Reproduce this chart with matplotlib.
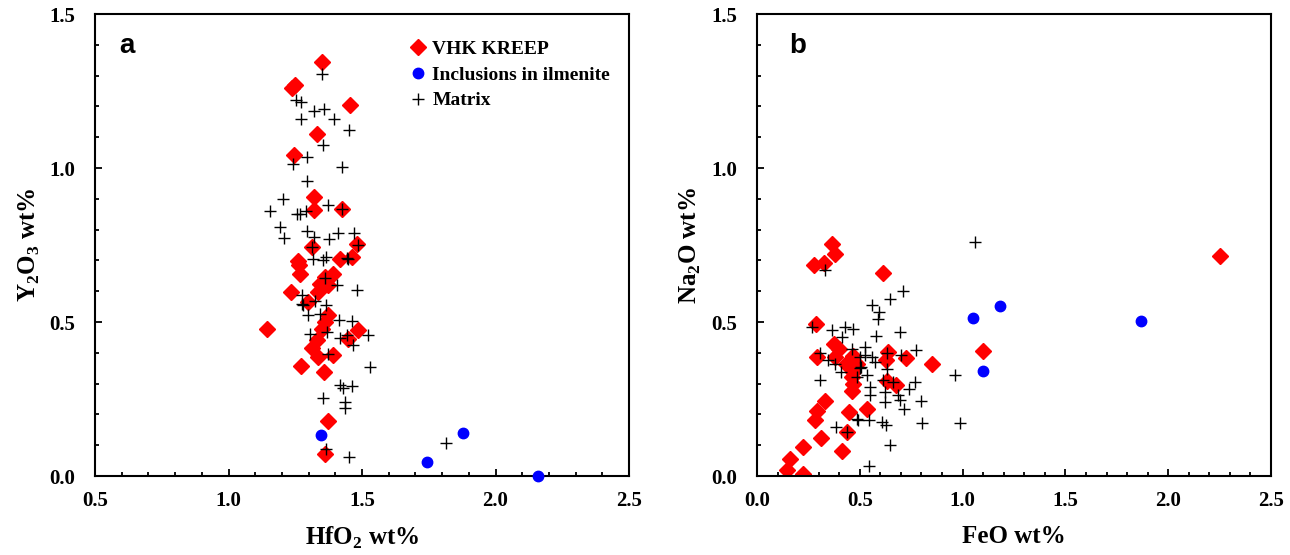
import numpy as np
import matplotlib
matplotlib.use("Agg")
import matplotlib.pyplot as plt
from matplotlib.ticker import MultipleLocator

plt.rcParams.update({
    "font.family": "Liberation Serif", "font.weight": "bold",
    "mathtext.fontset": "custom", "mathtext.rm": "Liberation Serif:bold",
    "mathtext.bf": "Liberation Serif:bold",
})

# ---- panel a: HfO2 vs Y2O3 (wt%) ----
kreep_hf = [1.351, 1.239, 1.455, 1.333, 1.245, 1.319, 1.319, 1.424, 1.313, 1.48,
            1.26, 1.418, 1.461, 1.263, 1.268, 1.361, 1.39, 1.343, 1.374, 1.234,
            1.336, 1.299, 1.374, 1.361, 1.143, 1.349, 1.486, 1.449, 1.330, 1.311,
            1.336, 1.393, 1.270, 1.358, 1.374, 1.361, 1.25]
kreep_y = [1.344, 1.261, 1.205, 1.109, 1.043, 0.906, 0.865, 0.868, 0.745, 0.754,
           0.698, 0.703, 0.711, 0.686, 0.657, 0.646, 0.655, 0.624, 0.619, 0.597,
           0.597, 0.565, 0.522, 0.500, 0.476, 0.478, 0.473, 0.446, 0.440, 0.416,
           0.386, 0.394, 0.356, 0.338, 0.179, 0.070, 1.268]
incl_hf = [1.346, 1.742, 1.88, 2.158]
incl_y = [0.132, 0.046, 0.14, 0.0]
matrix_hf = [1.349, 1.253, 1.27, 1.32, 1.358, 1.270, 1.394, 1.451, 1.354, 1.295,
             1.243, 1.424, 1.295, 1.203, 1.155, 1.255, 1.268, 1.29, 1.371, 1.424,
             1.193, 1.209, 1.295, 1.32, 1.377, 1.41, 1.471, 1.486, 1.318, 1.365,
             1.355, 1.442, 1.446, 1.361, 1.405, 1.48, 1.274, 1.274, 1.28, 1.324,
             1.364, 1.299, 1.343, 1.414, 1.461, 1.305, 1.368, 1.418, 1.442, 1.524,
             1.468, 1.371, 1.530, 1.418, 1.428, 1.461, 1.353, 1.436, 1.436, 1.365,
             1.451, 1.815, 1.313]
matrix_y = [1.304, 1.22, 1.213, 1.186, 1.191, 1.159, 1.160, 1.122, 1.076, 1.036,
            1.014, 1.003, 0.957, 0.900, 0.859, 0.85, 0.852, 0.859, 0.881, 0.868,
            0.808, 0.774, 0.794, 0.776, 0.770, 0.790, 0.788, 0.749, 0.706, 0.711,
            0.700, 0.708, 0.706, 0.643, 0.619, 0.605, 0.587, 0.560, 0.554, 0.567,
            0.554, 0.522, 0.527, 0.508, 0.504, 0.462, 0.468, 0.448, 0.459, 0.459,
            0.424, 0.397, 0.354, 0.296, 0.287, 0.292, 0.253, 0.240, 0.221, 0.089,
            0.062, 0.107, 0.745]

# ---- panel b: FeO vs Na2O (wt%) ----
kreep_fe = [0.367, 0.379, 0.277, 0.327, 0.613, 0.286, 0.374, 0.400, 0.290, 0.379,
            0.468, 0.435, 0.484, 0.468, 0.637, 0.626, 0.727, 0.853, 0.460, 0.468,
            0.630, 0.675, 0.464, 0.330, 0.290, 0.282, 0.447, 0.533, 0.440, 0.309,
            0.222, 0.411, 0.160, 0.144, 0.222, 1.10, 2.25]
kreep_na = [0.752, 0.722, 0.684, 0.691, 0.660, 0.493, 0.430, 0.411, 0.387, 0.385,
            0.389, 0.363, 0.365, 0.338, 0.401, 0.376, 0.383, 0.363, 0.322, 0.300,
            0.308, 0.297, 0.276, 0.243, 0.211, 0.182, 0.207, 0.219, 0.144, 0.125,
            0.093, 0.081, 0.054, 0.019, 0.006, 0.405, 0.715]
incl_fe = [1.05, 1.18, 1.10, 1.87]
incl_na = [0.512, 0.551, 0.340, 0.502]
matrix_fe = [0.330, 0.710, 0.646, 0.561, 0.594, 0.589, 0.266, 0.367, 0.427, 0.468,
             0.697, 0.411, 0.581, 0.306, 0.346, 0.379, 0.464, 0.524, 0.524, 0.557,
             0.573, 0.5, 0.630, 0.702, 0.775, 0.5, 0.508, 0.630, 0.408, 0.533,
             0.306, 0.484, 0.613, 0.662, 0.767, 0.549, 0.549, 0.621, 0.686, 0.739,
             0.621, 0.694, 0.8, 0.714, 0.484, 0.492, 0.545, 0.610, 0.626, 0.383,
             0.804, 0.985, 0.646, 0.544, 0.961, 0.44, 1.06]
matrix_na = [0.668, 0.600, 0.576, 0.554, 0.533, 0.511, 0.484, 0.473, 0.484, 0.477,
             0.468, 0.450, 0.454, 0.398, 0.376, 0.365, 0.411, 0.419, 0.392, 0.387,
             0.371, 0.387, 0.398, 0.392, 0.408, 0.352, 0.354, 0.349, 0.338, 0.327,
             0.313, 0.322, 0.311, 0.306, 0.304, 0.290, 0.263, 0.273, 0.263, 0.281,
             0.241, 0.246, 0.243, 0.217, 0.184, 0.182, 0.182, 0.176, 0.165, 0.160,
             0.171, 0.171, 0.100, 0.033, 0.327, 0.144, 0.759]

fig = plt.figure(figsize=(12.9, 5.55), dpi=100)
ax_a = fig.add_axes([95 / 1290, 79 / 555, 534 / 1290, 462 / 555])
ax_b = fig.add_axes([757 / 1290, 79 / 555, 514 / 1290, 462 / 555])


def scatter_panel(ax, xk, yk, xi, yi, xm, ym):
    ax.plot(xk, yk, "D", color="#FF0000", ms=8, mec="#FF0000", ls="none",
            label="VHK KREEP", zorder=2)
    ax.plot(xi, yi, "o", color="#0000FF", ms=7.5, ls="none",
            label="Inclusions in ilmenite", zorder=3, clip_on=False)
    ax.plot(xm, ym, "+", color="black", ms=9, mew=1.0, ls="none",
            label="Matrix", zorder=4)
    ax.set_ylim(0, 1.5)
    ax.yaxis.set_major_locator(MultipleLocator(0.5))
    ax.yaxis.set_minor_locator(MultipleLocator(0.1))
    ax.xaxis.set_major_locator(MultipleLocator(0.5))
    ax.xaxis.set_minor_locator(MultipleLocator(0.1))
    ax.yaxis.set_major_formatter(lambda v, p: f"{v:.1f}")
    ax.xaxis.set_major_formatter(lambda v, p: f"{v:.1f}")
    ax.tick_params(which="both", direction="in", top=False, right=False, width=1.3)
    ax.tick_params(which="major", length=5, labelsize=15)
    ax.tick_params(which="minor", length=3)
    ax.tick_params(axis="x", which="major", pad=11)
    ax.tick_params(axis="y", which="major", pad=14)
    for s in ax.spines.values():
        s.set_linewidth(1.5)


scatter_panel(ax_a, kreep_hf, kreep_y, incl_hf, incl_y, matrix_hf, matrix_y)
ax_a.set_xlim(0.5, 2.5)
ax_a.set_xlabel("HfO$_{2}$ wt%", fontsize=18, fontweight="bold")
ax_a.set_ylabel("Y$_{2}$O$_{3}$ wt%", fontsize=18, fontweight="bold")
ax_a.xaxis.set_label_coords(0.5, -0.105)
ax_a.yaxis.set_label_coords(-0.1, 0.5)
ax_a.text(0.06, 0.93, "a", transform=ax_a.transAxes, fontsize=20,
          fontweight="bold", family="Liberation Sans", va="center", ha="center")
ax_a.legend(loc="upper left", bbox_to_anchor=(0.575, 0.96), frameon=False,
            fontsize=14, handlelength=0.8, handletextpad=0.35, labelspacing=0.42,
            borderaxespad=0, markerscale=1.0)

scatter_panel(ax_b, kreep_fe, kreep_na, incl_fe, incl_na, matrix_fe, matrix_na)
ax_b.set_xlim(0, 2.5)
ax_b.set_xlabel("FeO wt%", fontsize=18, fontweight="bold")
ax_b.set_ylabel("Na$_{2}$O wt%", fontsize=18, fontweight="bold")
ax_b.xaxis.set_label_coords(0.5, -0.105)
ax_b.yaxis.set_label_coords(-0.105, 0.5)
ax_b.text(0.08, 0.93, "b", transform=ax_b.transAxes, fontsize=20,
          fontweight="bold", family="Liberation Sans", va="center", ha="center")

fig.savefig("out.png", dpi=100)
